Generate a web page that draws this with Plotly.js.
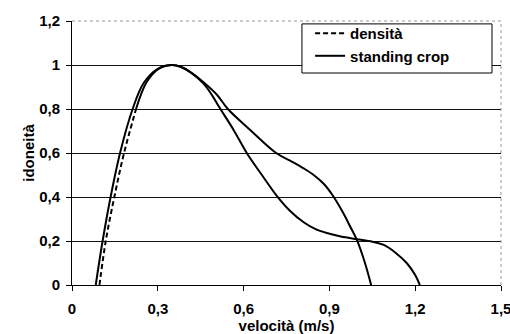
<!DOCTYPE html>
<html>
<head>
<meta charset="utf-8">
<script src="https://cdn.plot.ly/plotly-3.0.1.min.js"></script>
<style>html,body{margin:0;padding:0;background:#fff;}#chart{width:510px;height:334px;}</style>
</head>
<body>
<div id="chart"></div>
<script>
// densità
var densX = [0.096, 0.118, 0.148, 0.182, 0.224, 0.26, 0.30, 0.349, 0.38, 0.42, 0.46, 0.506, 0.545, 0.623, 0.714, 0.77, 0.81, 0.845, 0.88, 0.91, 0.945, 0.973, 0.996, 1.022, 1.046];
var densY = [0, 0.2, 0.4, 0.6, 0.8, 0.92, 0.98, 1, 0.992, 0.962, 0.922, 0.866, 0.8, 0.705, 0.6, 0.56, 0.53, 0.5, 0.46, 0.41, 0.335, 0.265, 0.205, 0.11, 0];
// standing crop
var scX = [0.083, 0.107, 0.135, 0.168, 0.212, 0.25, 0.30, 0.349, 0.38, 0.42, 0.46, 0.49, 0.514, 0.565, 0.611, 0.664, 0.716, 0.76, 0.81, 0.85, 0.891, 0.94, 0.996, 1.05, 1.09, 1.13, 1.171, 1.20, 1.216];
var scY = [0, 0.2, 0.4, 0.6, 0.8, 0.917, 0.983, 1, 0.992, 0.962, 0.915, 0.862, 0.81, 0.705, 0.6, 0.5, 0.405, 0.34, 0.285, 0.255, 0.236, 0.22, 0.208, 0.197, 0.182, 0.148, 0.099, 0.045, 0];
var dashEnd = 5; // dashed pattern visible on the steep rising part
var xTicks = [0, 0.3, 0.6, 0.9, 1.2, 1.5];
var yTicks = [0, 0.2, 0.4, 0.6, 0.8, 1, 1.2];

var fnt = {family: 'Liberation Sans, Arial, sans-serif', size: 15, color: '#000', weight: 'bold'};

var traces = [
  {x: densX.slice(0, dashEnd), y: densY.slice(0, dashEnd), name: 'densità', mode: 'lines',
   line: {color: '#000', width: 2, dash: '5px,3px', shape: 'spline', smoothing: 1}, legendrank: 1},
  {x: densX.slice(dashEnd - 1), y: densY.slice(dashEnd - 1), name: 'densità', mode: 'lines', showlegend: false,
   line: {color: '#000', width: 2, shape: 'spline', smoothing: 1}},
  {x: scX, y: scY, name: 'standing crop', mode: 'lines',
   line: {color: '#000', width: 2, shape: 'spline', smoothing: 1}, legendrank: 2}
];

var layout = {
  width: 510, height: 334,
  margin: {l: 72, r: 9, t: 21, b: 49},
  paper_bgcolor: '#fff', plot_bgcolor: '#fff',
  separators: ',.',
  font: fnt,
  showlegend: true,
  legend: {x: 0.555, y: 1.015, xanchor: 'left', yanchor: 'top', bgcolor: 'rgba(0,0,0,0)', borderwidth: 0,
           font: fnt, tracegroupgap: 0, itemwidth: 30},
  xaxis: {range: [0, 1.5], tickvals: xTicks, ticks: 'outside', ticklen: 5, tickcolor: '#000',
          showline: true, linecolor: '#000', linewidth: 1, showgrid: false, zeroline: false,
          tickfont: fnt, ticklabelstandoff: 5, ticklabeloverflow: 'allow', automargin: false,
          title: {text: 'velocità (m/s)', font: fnt, standoff: 1}},
  yaxis: {range: [0, 1.2], tickvals: yTicks, ticks: 'outside', ticklen: 5, tickcolor: '#000',
          showline: true, linecolor: '#000', linewidth: 1, showgrid: true, gridcolor: '#111', gridwidth: 1,
          zeroline: false, tickfont: fnt, ticklabelstandoff: 3, automargin: false,
          title: {text: 'idoneità', font: fnt, standoff: 0}},
  shapes: [
    {type: 'line', xref: 'paper', yref: 'paper', x0: 0.002, x1: 1, y0: 1, y1: 1, layer: 'above', line: {color: '#fff', width: 2}},
    {type: 'line', xref: 'paper', yref: 'paper', x0: 0, x1: 1, y0: 1, y1: 1, layer: 'above', line: {color: '#999', width: 1, dash: 'dot'}},
    {type: 'line', xref: 'paper', yref: 'paper', x0: 1, x1: 1, y0: 0, y1: 1, layer: 'above', line: {color: '#999', width: 1, dash: 'dot'}},
    {type: 'rect', xref: 'paper', yref: 'paper', x0: 0.536, x1: 0.979, y0: 0.803, y1: 0.989, layer: 'above',
     fillcolor: '#fff', line: {color: '#000', width: 1}}
  ]
};

Plotly.newPlot('chart', traces, layout, {displayModeBar: false, staticPlot: true});
</script>
</body>
</html>
